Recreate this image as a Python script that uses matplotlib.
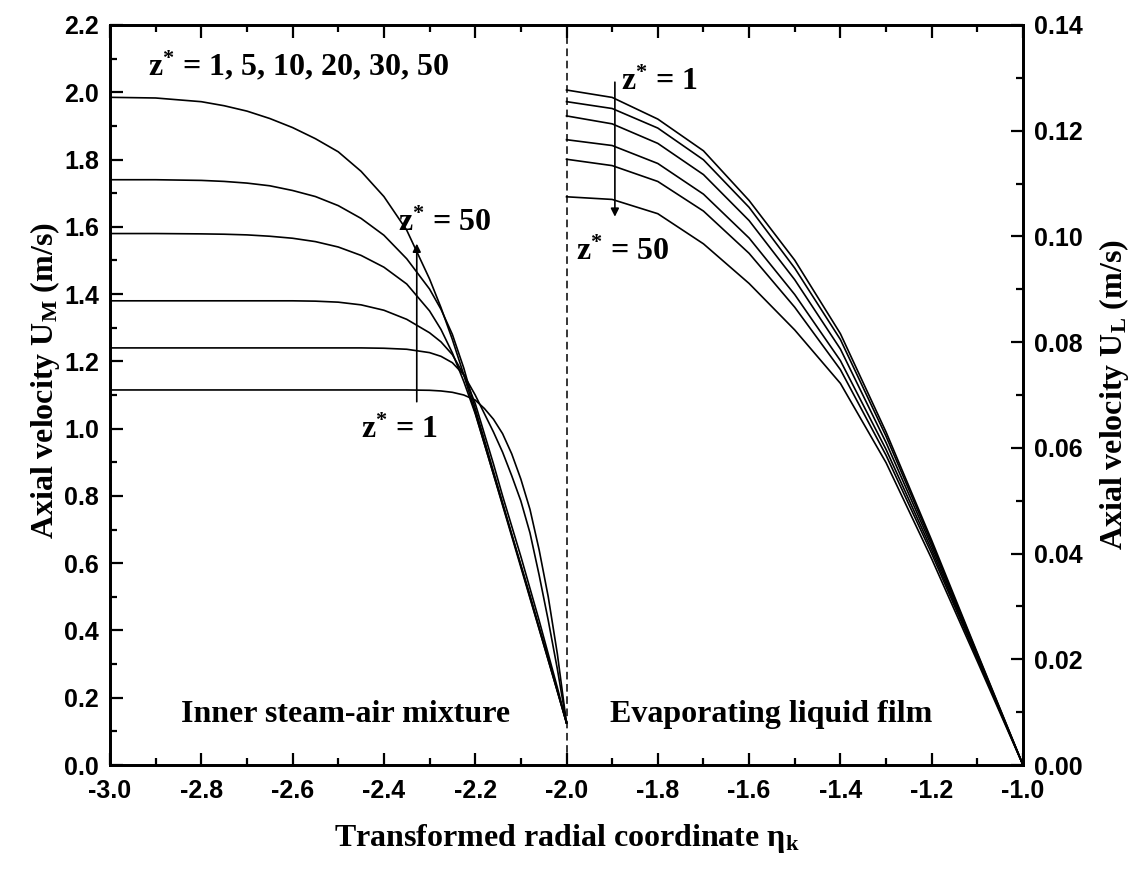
import matplotlib
matplotlib.use("Agg")
import matplotlib.pyplot as plt
from matplotlib.ticker import MultipleLocator, FormatStrFormatter

plt.rcParams["mathtext.fontset"] = "custom"
plt.rcParams["mathtext.rm"] = "Liberation Serif:bold"
plt.rcParams["mathtext.it"] = "Liberation Serif:bold"
plt.rcParams["mathtext.bf"] = "Liberation Serif:bold"

# ---- steam-air mixture core (left axis) ----
eta_m = [-3.0, -2.9, -2.8, -2.75, -2.7, -2.65, -2.6, -2.55, -2.5, -2.45,
         -2.4, -2.35, -2.3, -2.275, -2.25, -2.225, -2.2, -2.18, -2.16, -2.14,
         -2.12, -2.1, -2.08, -2.06, -2.04, -2.02, -2.0]
um_z1 = [1.115, 1.115, 1.115, 1.115, 1.115, 1.115, 1.115, 1.115, 1.115, 1.115,
         1.115, 1.115, 1.114, 1.112, 1.108, 1.100, 1.085, 1.060, 1.028, 0.985,
         0.925, 0.850, 0.760, 0.640, 0.500, 0.330, 0.125]
um_z5 = [1.240, 1.240, 1.240, 1.240, 1.240, 1.240, 1.240, 1.240, 1.240, 1.240,
         1.239, 1.236, 1.226, 1.215, 1.196, 1.160, 1.100, 1.045, 0.990, 0.930,
         0.860, 0.785, 0.690, 0.565, 0.430, 0.285, 0.125]
um_z10 = [1.380, 1.380, 1.380, 1.380, 1.380, 1.380, 1.380, 1.379, 1.376, 1.368,
          1.352, 1.325, 1.285, 1.258, 1.220, 1.160, 1.075, 0.985, 0.895, 0.800,
          0.710, 0.620, 0.525, 0.430, 0.330, 0.230, 0.125]
um_z20 = [1.580, 1.580, 1.579, 1.578, 1.576, 1.572, 1.566, 1.556, 1.540, 1.515,
          1.480, 1.430, 1.350, 1.295, 1.225, 1.140, 1.045, 0.955, 0.865, 0.775,
          0.685, 0.595, 0.505, 0.410, 0.318, 0.222, 0.125]
um_z30 = [1.740, 1.740, 1.738, 1.735, 1.730, 1.722, 1.708, 1.690, 1.663, 1.625,
          1.575, 1.505, 1.415, 1.355, 1.280, 1.180, 1.060, 0.967, 0.873, 0.780,
          0.686, 0.593, 0.499, 0.406, 0.312, 0.219, 0.125]
um_z50 = [1.985, 1.983, 1.972, 1.960, 1.944, 1.922, 1.895, 1.862, 1.823, 1.765,
          1.690, 1.590, 1.445, 1.360, 1.265, 1.160, 1.048, 0.956, 0.864, 0.772,
          0.680, 0.588, 0.496, 0.404, 0.312, 0.219, 0.125]

# ---- evaporating liquid film (right axis) ----
eta_l = [-2.0, -1.9, -1.8, -1.7, -1.6, -1.5, -1.4, -1.3, -1.2, -1.1, -1.0]
ul_z1 = [0.1277, 0.1263, 0.1222, 0.1162, 0.1068, 0.0955, 0.0816, 0.0630, 0.0425, 0.0212, 0.0]
ul_z5 = [0.1255, 0.1242, 0.1205, 0.1145, 0.1055, 0.0940, 0.0805, 0.0622, 0.0420, 0.0210, 0.0]
ul_z10 = [0.1228, 0.1213, 0.1176, 0.1117, 0.1030, 0.0918, 0.0787, 0.0610, 0.0414, 0.0207, 0.0]
ul_z20 = [0.1183, 0.1172, 0.1138, 0.1080, 0.0997, 0.0890, 0.0765, 0.0597, 0.0407, 0.0204, 0.0]
ul_z30 = [0.1146, 0.1134, 0.1104, 0.1048, 0.0968, 0.0866, 0.0748, 0.0586, 0.0400, 0.0201, 0.0]
ul_z50 = [0.1075, 0.1070, 0.1043, 0.0986, 0.0911, 0.0823, 0.0722, 0.0572, 0.0390, 0.0196, 0.0]

x_ticks = [-3.0, -2.8, -2.6, -2.4, -2.2, -2.0, -1.8, -1.6, -1.4, -1.2, -1.0]

SERIF = "Liberation Serif"
SANS = "Liberation Sans"
LW = 1.2

fig = plt.figure(figsize=(11.45, 8.72), dpi=100)
ax = fig.add_axes([110 / 1145, 1 - 765 / 872, (1023 - 110) / 1145, (765 - 25) / 872])
ax2 = ax.twinx()

for ys in (um_z1, um_z5, um_z10, um_z20, um_z30, um_z50):
    ax.plot(eta_m, ys, color="black", lw=LW)
for ys in (ul_z1, ul_z5, ul_z10, ul_z20, ul_z30, ul_z50):
    ax2.plot(eta_l, ys, color="black", lw=LW)

# interface between the two regions
ax.axvline(-2.0, color="black", lw=1.1, ls=(0, (5, 3)))

ax.set_xlim(-3.0, -1.0)
ax.set_ylim(0.0, 2.2)
ax2.set_ylim(0.0, 0.14)

ax.set_xticks(x_ticks)
ax.xaxis.set_minor_locator(MultipleLocator(0.1))
ax.yaxis.set_major_locator(MultipleLocator(0.2))
ax.yaxis.set_minor_locator(MultipleLocator(0.1))
ax2.yaxis.set_major_locator(MultipleLocator(0.02))
ax2.yaxis.set_minor_locator(MultipleLocator(0.01))
ax.xaxis.set_major_formatter(FormatStrFormatter("%.1f"))
ax.yaxis.set_major_formatter(FormatStrFormatter("%.1f"))
ax2.yaxis.set_major_formatter(FormatStrFormatter("%.2f"))

ax.tick_params(which="both", direction="in", top=True, right=False, width=1.6)
ax.tick_params(axis="x", which="major", length=9, pad=10)
ax.tick_params(axis="y", which="major", length=9, pad=8)
ax.tick_params(which="minor", length=5)
ax2.tick_params(which="both", direction="in", width=1.6)
ax2.tick_params(which="major", length=9, pad=8)
ax2.tick_params(which="minor", length=5)

for a in (ax, ax2):
    for s in a.spines.values():
        s.set_linewidth(2.0)
    for lab in a.get_xticklabels() + a.get_yticklabels():
        lab.set_fontfamily(SANS)
        lab.set_fontweight("bold")
        lab.set_fontsize(18)

ax.set_xlabel("Transformed radial coordinate \u03b7$_{\\rm k}$",
              fontfamily=SERIF, fontweight="bold", fontsize=23, labelpad=14)
ax.set_ylabel("Axial velocity U$_{\\rm M}$ (m/s)",
              fontfamily=SERIF, fontweight="bold", fontsize=23)
ax.yaxis.set_label_coords(-0.053, 0.52)
ax2.set_ylabel("Axial velocity U$_{\\rm L}$ (m/s)",
               fontfamily=SERIF, fontweight="bold", fontsize=23)
ax2.yaxis.set_label_coords(1.081, 0.50)

tkw = dict(fontfamily=SERIF, fontweight="bold", fontsize=23, color="black")
ax.text(-2.917, 2.08, "z$^{*}$ = 1, 5, 10, 20, 30, 50", ha="left", va="center", **tkw)
ax.text(-2.37, 1.61, "z$^{*}$ = 50", ha="left", va="center", **tkw)
ax.text(-2.45, 0.995, "z$^{*}$ = 1", ha="left", va="center", **tkw)
ax.text(-1.88, 2.03, "z$^{*}$ = 1", ha="left", va="center", **tkw)
ax.text(-1.979, 1.525, "z$^{*}$ = 50", ha="left", va="center", **tkw)
ax.text(-2.485, 0.15, "Inner steam-air mixture", ha="center", va="center", **tkw)
ax.text(-1.552, 0.15, "Evaporating liquid film", ha="center", va="center", **tkw)

# trend arrows across the z* family
arrow = dict(arrowstyle="-|>", color="black", lw=1.2, mutation_scale=12,
             shrinkA=0, shrinkB=0)
ax.annotate("", xy=(-2.328, 1.55), xytext=(-2.328, 1.08), arrowprops=arrow)
ax.annotate("", xy=(-1.894, 1.63), xytext=(-1.894, 2.03), arrowprops=arrow)

fig.savefig("out.png", dpi=100)
